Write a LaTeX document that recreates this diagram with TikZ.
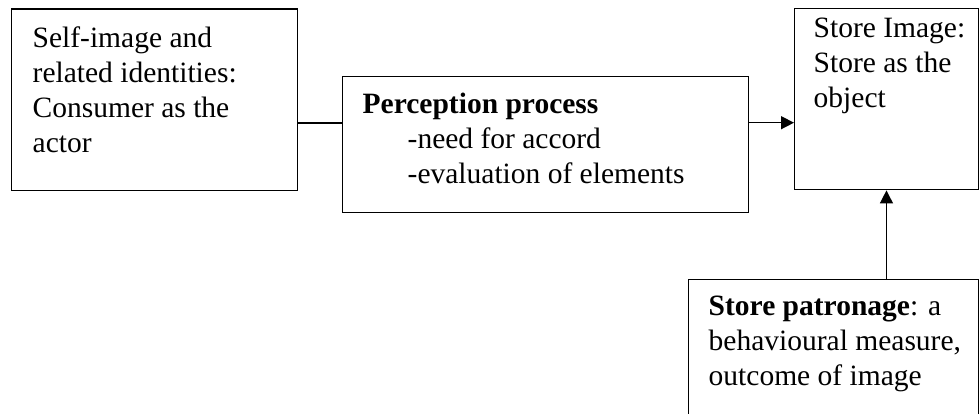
\documentclass[tikz,border=0pt]{standalone}
\usepackage{fontspec}
\setmainfont{Liberation Serif}
\usetikzlibrary{arrows.meta}

% text of a box: width, height, left inset, top skip, lines
\newcommand{\boxtext}[5]{\parbox[c][#2][t]{#1}{\fontsize{29.5pt}{35pt}\selectfont\raggedright\leftskip=#3\relax\vspace*{#4}\strut#5}}

\begin{document}
\begin{tikzpicture}[x=1pt,y=-1pt,
    box/.style={draw,line width=1.4pt,inner sep=0pt,anchor=north west},
    link/.style={line width=1.4pt},
    tip/.style={link,-{Triangle[length=13pt,width=13pt]}}]

    \useasboundingbox (0,0) rectangle (979,413);

    %draw boxes:
    \node[box] (self) at (10.7,8.3) {\boxtext{286.3pt}{181.7pt}{21.3pt}{13.9pt}{Self-image and\\related identities:\\Consumer as the\\actor}};
    \node[box] (percep) at (342,76) {\boxtext{406pt}{136pt}{20pt}{12.5pt}{\textbf{Perception process}\\\hspace*{45pt}-need for accord\\\hspace*{45pt}-evaluation of elements}};
    \node[box] (image) at (794,8) {\boxtext{183.5pt}{181pt}{19pt}{4.5pt}{Store Image:\\Store as the\\object}};
    \node[box] (patron) at (688,279) {\boxtext{289.5pt}{150pt}{20pt}{11.5pt}{\textbf{Store patronage}: a\\behavioural measure,\\outcome of image}};

    %draw links:
    \draw[link] (self.east) ++(0,23) coordinate (j1) -- (j1 -| percep.west);
    \draw[tip] (percep.east) ++(0,-22) coordinate (j2) -- (j2 -| image.west);
    \draw[tip] (image.south |- patron.north) -- (image.south);

\end{tikzpicture}
\end{document}
